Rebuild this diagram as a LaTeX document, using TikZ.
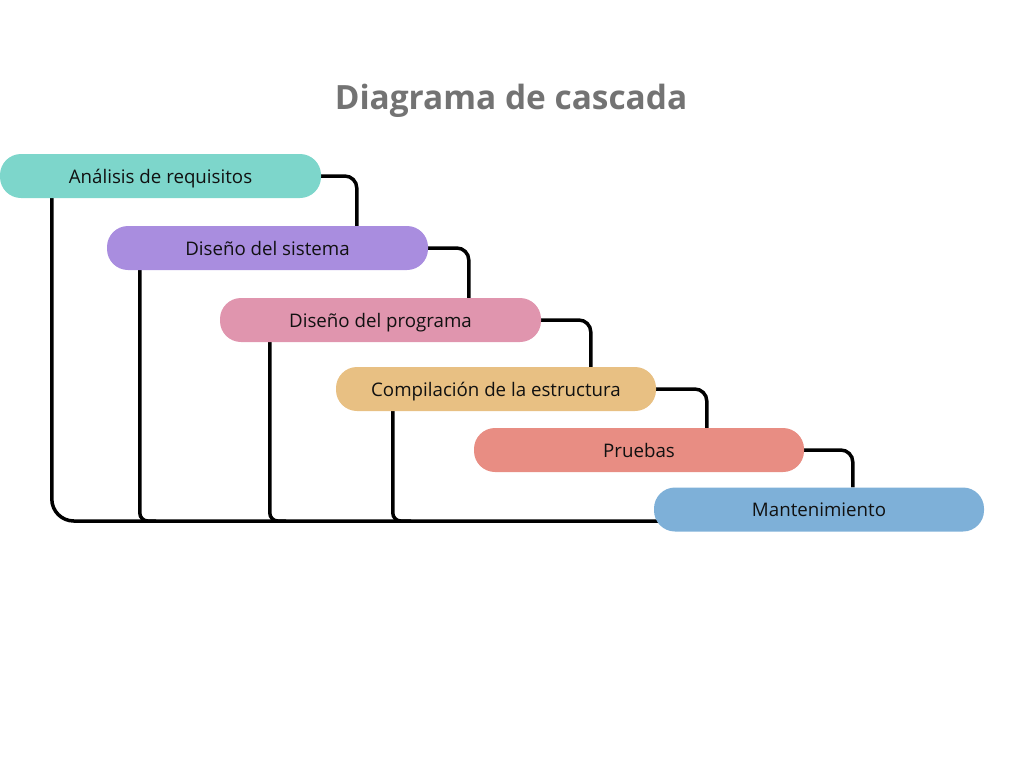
\documentclass[tikz,border=0pt]{standalone}
\usepackage{fontspec}
\setmainfont{Open Sans}
\usetikzlibrary{backgrounds}
\definecolor{c1}{HTML}{7DD6CB}
\definecolor{c2}{HTML}{A98DDF}
\definecolor{c3}{HTML}{E095AE}
\definecolor{c4}{HTML}{E8C083}
\definecolor{c5}{HTML}{E88D83}
\definecolor{c6}{HTML}{7EB0D8}
\definecolor{titlegray}{HTML}{737373}
\definecolor{txt}{HTML}{111111}
\tikzset{
  phase/.style={rounded corners=21pt, minimum height=44pt, inner sep=0pt, text=txt,
    text depth=0pt, font=\fontsize{18.7pt}{22pt}\selectfont},
  link/.style={line width=3.5pt, black, rounded corners=12pt},
}
\begin{document}
\begin{tikzpicture}[x=1pt,y=-1pt]
\useasboundingbox (0,0) rectangle (1024,768);
\node[font=\bfseries\fontsize{33.4pt}{40pt}\selectfont, text=titlegray] (title) at (511,101) {Diagrama de cascada};
\node[phase, fill=c1, minimum width=321pt] (a1) at (160.5,176) {Análisis de requisitos};
\node[phase, fill=c2, minimum width=321pt] (a2) at (267.5,248) {Diseño del sistema};
\node[phase, fill=c3, minimum width=321pt] (a3) at (380.5,320) {Diseño del programa};
\node[phase, fill=c4, minimum width=320pt] (a4) at (496,389) {Compilación de la estructura};
\node[phase, fill=c5, minimum width=330pt] (a5) at (639,450) {Pruebas};
\node[phase, fill=c6, minimum width=330pt] (a6) at (819,509.5) {Mantenimiento};
\coordinate (b2) at (156,521);
\coordinate (b3) at (286,521);
\coordinate (b4) at (411,521);
\begin{scope}[on background layer]
\draw[link] (a1.east) -| ([xshift=250pt]a2.north west);
\draw[link] (a2.east) -| ([xshift=249pt]a3.north west);
\draw[link] (a3.east) -| ([xshift=255pt]a4.north west);
\draw[link] (a4.east) -| ([xshift=233pt]a5.north west);
\draw[link] (a5.east) -| ([xshift=199pt]a6.north west);
\draw[link, rounded corners=22pt] ([xshift=52pt]a1.south west) |- ([yshift=-11.5pt, xshift=10pt]a6.west);
\draw[link, rounded corners=8pt] ([xshift=33pt]a2.south west) |- (b2);
\draw[link, rounded corners=8pt] ([xshift=50pt]a3.south west) |- (b3);
\draw[link, rounded corners=8pt] ([xshift=57pt]a4.south west) |- (b4);
\end{scope}
\end{tikzpicture}
\end{document}
